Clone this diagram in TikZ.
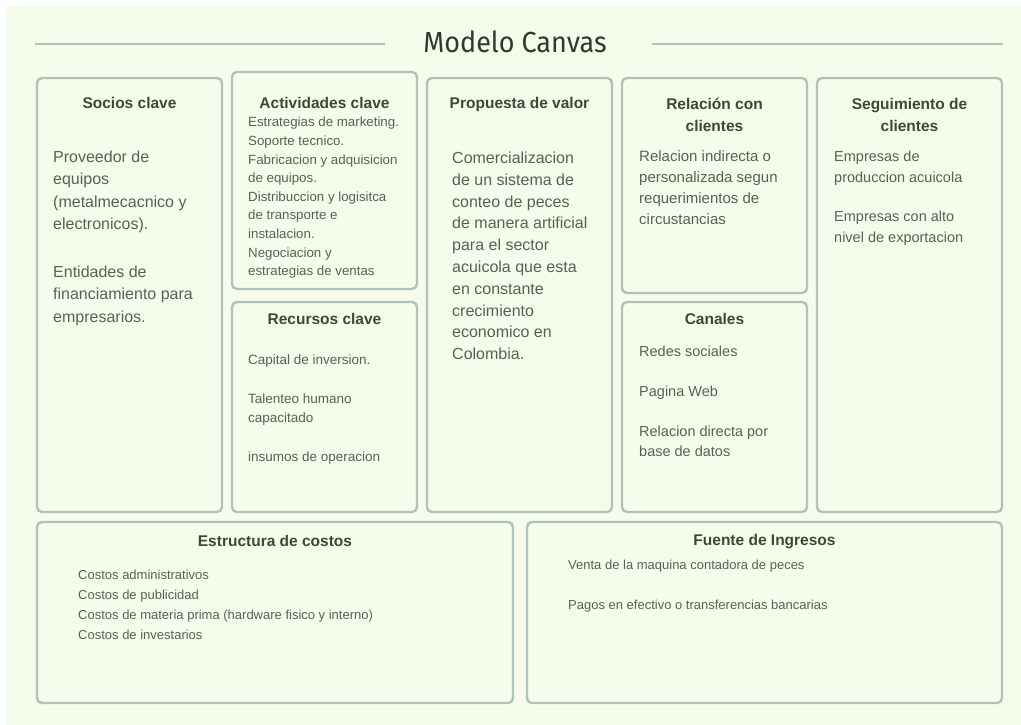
\documentclass[tikz,border=0pt]{standalone}
\usepackage{fontspec}
\setmainfont{Liberation Sans}
\newfontfamily\titlefont{Fira Sans}
\usetikzlibrary{positioning}

\definecolor{fondo}{HTML}{F5FCEC}
\definecolor{borde}{HTML}{B0C2BA}
\definecolor{cabeza}{HTML}{3C4839}
\definecolor{cuerpo}{HTML}{5A6057}
\definecolor{tinta}{HTML}{2F3A2F}

\begin{document}
\begin{tikzpicture}[
        x=1pt, y=-1pt,
        box/.style={draw=borde, line width=2.4pt, rounded corners=5pt, inner sep=0pt, outer sep=0pt, anchor=north west},
        head/.style={font=\fontsize{15.5}{22}\selectfont\bfseries, text=cabeza, inner sep=0pt, anchor=north, align=center, execute at begin node=\strut},
        body/.style={text=cuerpo, inner sep=0pt, anchor=north west, align=left, execute at begin node=\strut},
        titleline/.style={draw=borde, line width=2pt}
    ]

    % Fondo
    \fill[white] (0,0) rectangle (1021,725);
    \fill[fondo] (7,6) rectangle (1021,725);
    \useasboundingbox (0,0) rectangle (1021,725);

    % Titulo
    \node (titulo) [anchor=base, inner sep=0pt, text=tinta, font=\titlefont\fontsize{29}{30}\selectfont] at (515,53) {\scalebox{0.93}[1]{Modelo Canvas}};
    \draw[titleline] (35,44) -- (385,44);
    \draw[titleline] (652,44) -- (1003,44);

    % Bloques
    \node (socios) [box, minimum width=185pt, minimum height=434pt] at (37,78) {};
    \node (actividades) [box, minimum width=185pt, minimum height=217pt] at (232,72) {};
    \node (recursos) [box, minimum width=185pt, minimum height=210pt] at (232,302) {};
    \node (propuesta) [box, minimum width=185pt, minimum height=434pt] at (427,78) {};
    \node (relacion) [box, minimum width=185pt, minimum height=215pt] at (622,78) {};
    \node (canales) [box, minimum width=185pt, minimum height=210pt] at (622,302) {};
    \node (seguimiento) [box, minimum width=185pt, minimum height=434pt] at (817,78) {};
    \node (costos) [box, minimum width=476pt, minimum height=181pt] at (37,522) {};
    \node (ingresos) [box, minimum width=475pt, minimum height=181pt] at (527,522) {};

    % Encabezados
    \node (sociosH) [head] at ([yshift=-14.6pt]socios.north) {Socios clave};
    \node (actividadesH) [head] at ([yshift=-20.6pt]actividades.north) {Actividades clave};
    \node (recursosH) [head] at ([yshift=-6.6pt]recursos.north) {Recursos clave};
    \node (propuestaH) [head] at ([yshift=-14.6pt]propuesta.north) {Propuesta de valor};
    \node (relacionH) [head] at ([yshift=-19.6pt]relacion.north) {Relación con\\clientes};
    \node (canalesH) [head] at ([yshift=-6.6pt]canales.north) {Canales};
    \node (seguimientoH) [head] at ([yshift=-19.6pt]seguimiento.north) {Seguimiento de\\clientes};
    \node (costosH) [head] at ([yshift=-9.1pt]costos.north) {Estructura de costos};
    \node (ingresosH) [head] at ([yshift=-7.6pt]ingresos.north) {Fuente de Ingresos};

    % Contenido
    \node (sociosT) [body, font=\fontsize{16}{22.5}\selectfont] at ([xshift=16pt, yshift=-72.3pt]socios.north west)
        {Proveedor de\\equipos\\(metalmecacnico y\\electronicos).\\[25pt]Entidades de\\financiamiento para\\empresarios.};
    \node (actividadesT) [body, font=\fontsize{13.3}{18.6}\selectfont] at ([xshift=16pt, yshift=-45pt]actividades.north west)
        {Estrategias de marketing.\\Soporte tecnico.\\Fabricacion y adquisicion\\de equipos.\\Distribuccion y logisitca\\de transporte e\\instalacion.\\Negociacion y\\estrategias de ventas};
    \node (recursosT) [body, font=\fontsize{13.5}{19}\selectfont] at ([xshift=16pt, yshift=-52.7pt]recursos.north west)
        {Capital de inversion.\\[20pt]Talenteo humano\\capacitado\\[20pt]insumos de operacion};
    \node (propuestaT) [body, font=\fontsize{16}{21.8}\selectfont] at ([xshift=25pt, yshift=-73.7pt]propuesta.north west)
        {Comercializacion\\de un sistema de\\conteo de peces\\de manera artificial\\para el sector\\acuicola que esta\\en constante\\crecimiento\\economico en\\Colombia.};
    \node (relacionT) [body, font=\fontsize{15}{21}\selectfont] at ([xshift=17pt, yshift=-72.3pt]relacion.north west)
        {Relacion indirecta o\\personalizada segun\\requerimientos de\\circustancias};
    \node (canalesT) [body, font=\fontsize{14.5}{20}\selectfont] at ([xshift=17pt, yshift=-44pt]canales.north west)
        {Redes sociales\\[20pt]Pagina Web\\[20pt]Relacion directa por\\base de datos};
    \node (seguimientoT) [body, font=\fontsize{14.5}{21}\selectfont] at ([xshift=17pt, yshift=-72.3pt]seguimiento.north west)
        {Empresas de\\produccion acuicola\\[18pt]Empresas con alto\\nivel de exportacion};
    \node (costosT) [body, font=\fontsize{13}{20}\selectfont] at ([xshift=41pt, yshift=-47.5pt]costos.north west)
        {Costos administrativos\\Costos de publicidad\\Costos de materia prima (hardware fisico y interno)\\Costos de investarios};
    \node (ingresosT) [body, font=\fontsize{13}{20}\selectfont] at ([xshift=41pt, yshift=-37.5pt]ingresos.north west)
        {Venta de la maquina contadora de peces\\[20pt]Pagos en efectivo o transferencias bancarias};

\end{tikzpicture}
\end{document}
